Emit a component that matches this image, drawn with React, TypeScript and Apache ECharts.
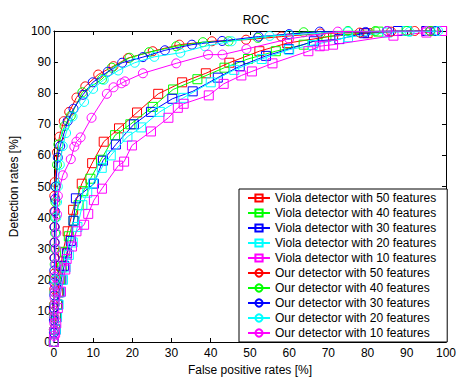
import React, { useEffect, useRef } from "react";
import * as echarts from "echarts";

const xTicks = [0, 10, 20, 30, 40, 50, 60, 70, 80, 90, 100];
const yTicks = [0, 10, 20, 30, 40, 50, 60, 70, 80, 90, 100];

const seriesNames = [
  "Viola detector with 50 features",
  "Viola detector with 40 features",
  "Viola detector with 30 features",
  "Viola detector with 20 features",
  "Viola detector with 10 features",
  "Our detector with 50 features",
  "Our detector with 40 features",
  "Our detector with 30 features",
  "Our detector with 20 features",
  "Our detector with 10 features",
];

const viola50 = [[0,0],[0.3,4],[0.5,8],[0.8,12],[1.1,16],[1.4,20],[1.8,24.5],[2.25,28.8],[3.5,35.6],[4.9,42.5],[7.1,50.9],[9.75,57.5],[12.7,64.4],[16.6,68.7],[21.2,73.8],[26.6,79.8],[32.7,83.5],[38.75,86.4],[44.75,89.8],[52.4,93.5],[59.5,96.1],[71.2,98.4],[80,99.3],[90,100],[95,100],[99,100]];
const viola40 = [[0,0],[0.4,4],[0.6,8],[0.9,12],[1.2,16],[1.6,20],[2.1,24],[2.8,29],[3.8,34],[5,39],[6.3,44],[7.5,48.5],[9.3,52.5],[12,58.6],[15.6,66.5],[19.5,70],[25.2,75.6],[30.4,81.2],[36.6,84.5],[43.5,88.2],[49.5,91],[56.6,93.5],[63.7,95.6],[69.5,98.2],[82.75,99.8],[90,100],[97,100]];
const viola30 = [[0,0],[0.5,4],[0.7,8],[1,12],[1.4,16],[1.9,20],[2.6,24.5],[3.3,28.5],[4.3,32.5],[5,39],[5.6,46.2],[10.2,50.9],[12.5,58.3],[15.8,63.5],[20.4,70],[24.75,74],[30.2,78.2],[35.4,80.6],[41.8,85],[47.4,88.7],[54.1,92],[59.9,94.2],[66.3,96.7],[72.8,97.4],[79.1,99.3],[87.75,100],[95,100]];
const viola20 = [[0,0],[0.5,4],[0.8,8],[1.2,12],[1.7,16],[2.3,20],[3,24],[3.8,28],[4.8,32],[6,37],[7.25,44],[8.5,48],[10,51],[12.2,56],[14.5,60],[18.75,66],[22.25,69],[27,74],[33,78.5],[40,83.5],[46,87.5],[53,91],[60,94],[66,95.5],[75,98],[85,99.5],[90,100],[96,100]];
const viola10 = [[0,0],[0.3,3],[0.6,6],[1,10.9],[1.8,16.2],[2.9,23.3],[3.25,26.7],[4.6,30.7],[5.75,35.6],[7.7,37.7],[8.75,41.2],[10.2,45.6],[12.25,49.3],[16.4,56.7],[17.9,58],[19.9,63.2],[24.75,67.7],[29.2,72.1],[31.6,75.3],[33.1,76.6],[39.5,79.3],[43.3,83],[47.8,85.7],[50.5,87],[55.75,89.6],[64.9,93.5],[67.8,95.1],[69,95.3],[71.2,95.6],[86.6,98.5],[95,99.5],[99,100]];
const our50 = [[0,0],[0,4],[0,8],[0,12],[0.1,17],[0.1,22],[0.1,27],[0.1,32],[0.1,37],[0.1,42],[0.1,47],[0.2,51.4],[0.8,61],[1.4,66],[2.5,71],[3.9,74],[5.75,78.6],[8,82.2],[11.3,86],[15.2,88.7],[18.9,91.3],[25.2,93.5],[32,95.6],[40.3,96.7],[49,97.2],[58,98.2],[68,99.2],[78,99.5],[86,99.8],[92,100],[96,100]];
const our40 = [[0,0],[0,4],[0,8],[0.1,12],[0.1,16],[0.1,20],[0.2,25],[0.2,30],[0.3,35],[0.3,40],[0.4,45],[0.5,50],[0.8,57],[1.15,63.5],[2.7,69.4],[4.3,72.7],[7.25,80.3],[12.25,84.5],[14.75,88.2],[19.3,91.4],[24.3,93.2],[31.2,95.1],[38,96.4],[44.5,96.7],[52,97.8],[63.7,99.6],[75,100],[82,100],[90,100],[96,100]];
const our30 = [[0,0],[0,3],[0,7],[0,11],[0.1,15],[0.1,19],[0.1,23],[0.2,27],[0.2,32],[0.2,37],[0.3,42],[0.3,46],[0.4,50],[1,59.3],[1.6,63],[3.5,71],[5,75],[7.4,79.5],[9.9,83.5],[13.75,86.9],[17.4,89.8],[22.7,91.6],[28.3,93.8],[35.2,95.6],[42.9,96.8],[52.2,98.2],[60,99],[67.8,99.8],[79.5,99.7],[85,100],[97.4,100]];
const our20 = [[0,0],[0.1,4],[0.1,8],[0.2,12],[0.2,16],[0.3,20],[0.3,25],[0.4,30],[0.5,35],[0.6,40],[0.8,45],[1,50],[1.5,57],[2.25,63],[3.1,67.2],[4.75,72.5],[7.7,77.2],[10,81.4],[12.7,84.3],[16.4,87.3],[20.6,89.8],[25.6,91.7],[32.25,93],[38.5,95.1],[45.3,96.7],[55,98.4],[60,98.7],[75,99.8],[90.7,99.7],[98,100]];
const our10 = [[0,0],[0,2],[0,4],[0.1,6],[0.1,8],[0.1,10],[0.2,12],[0.2,14],[0.2,16],[0.3,18],[0.3,21],[0.4,25],[0.5,30],[0.6,35],[0.8,41],[1,47],[2.25,53.6],[4.3,58.8],[5.2,62.8],[5.75,64.4],[6.8,65.8],[9.6,72.1],[13.5,79.8],[15.2,81.9],[17.25,83.2],[18.1,83.8],[22.7,86.4],[31.2,89.6],[39.3,92.4],[43,92.4],[49.1,94.2],[60,97.5],[72.4,99.8],[85,100],[95,100]];

const allData = [viola50, viola40, viola30, viola20, viola10, our50, our40, our30, our20, our10];
const colors = ["#ff0000", "#00ff00", "#0000ff", "#00ffff", "#ff00ff"];
const FONT = "Liberation Sans, Arial, sans-serif";

export default function App() {
  const ref = useRef<HTMLDivElement>(null);
  useEffect(() => {
    if (!ref.current) return;
    const chart = echarts.init(ref.current, null, { renderer: "svg" });
    const series = allData.map((d, i) => {
      const c = colors[i % 5];
      return {
        name: seriesNames[i],
        type: "line",
        data: d,
        symbol: i < 5 ? "rect" : "circle",
        symbolSize: 9,
        showAllSymbol: true,
        lineStyle: { color: c, width: 1 },
        itemStyle: { color: "rgba(0,0,0,0)", borderColor: c, borderWidth: 1 },
        emphasis: { disabled: true },
        z: 2 + i,
      };
    });
    const axisCommon = {
      type: "value",
      min: 0,
      max: 100,
      interval: 10,
      axisLine: { show: true, onZero: false, lineStyle: { color: "#000", width: 1 } },
      axisTick: { show: true, inside: true, length: 4, lineStyle: { color: "#000" } },
      splitLine: { show: false },
    };
    chart.setOption({
      animation: false,
      backgroundColor: "#fff",
      title: {
        text: "ROC",
        left: 251,
        textAlign: "center",
        top: 9,
        textStyle: { fontSize: 12, fontWeight: "normal", color: "#000", fontFamily: FONT },
      },
      grid: { left: 51, right: 8, top: 31, bottom: 33, containLabel: false },
      legend: {
        orient: "vertical",
        left: 239,
        top: 189,
        padding: [3, 11, 3, 8],
        itemWidth: 22,
        itemHeight: 9,
        itemGap: 3,
        borderColor: "#000",
        borderWidth: 1,
        backgroundColor: "#fff",
        textStyle: { fontSize: 12, color: "#000", fontFamily: FONT, lineHeight: 12 },
        data: seriesNames,
      },
      xAxis: [
        {
          ...axisCommon,
          position: "bottom",
          name: "False positive rates [%]",
          nameLocation: "middle",
          nameGap: 22,
          nameTextStyle: { fontSize: 12, color: "#000", fontFamily: FONT },
          axisLabel: {
            color: "#000",
            fontSize: 12,
            fontFamily: FONT,
            margin: 5,
            formatter: (v: number) => (xTicks.includes(v) ? String(v) : ""),
          },
        },
        { ...axisCommon, position: "top", axisLabel: { show: false } },
      ],
      yAxis: [
        {
          ...axisCommon,
          position: "left",
          name: "Detection rates [%]",
          nameLocation: "middle",
          nameGap: 30,
          nameTextStyle: { fontSize: 12, color: "#000", fontFamily: FONT },
          axisLabel: {
            color: "#000",
            fontSize: 12,
            fontFamily: FONT,
            margin: 3,
            formatter: (v: number) => (yTicks.includes(v) ? String(v) : ""),
          },
        },
        { ...axisCommon, position: "right", axisLabel: { show: false } },
      ],
      series,
    });
    return () => chart.dispose();
  }, []);
  return <div ref={ref} style={{ width: 459, height: 381, position: "absolute", left: 0, top: 0 }} />;
}
